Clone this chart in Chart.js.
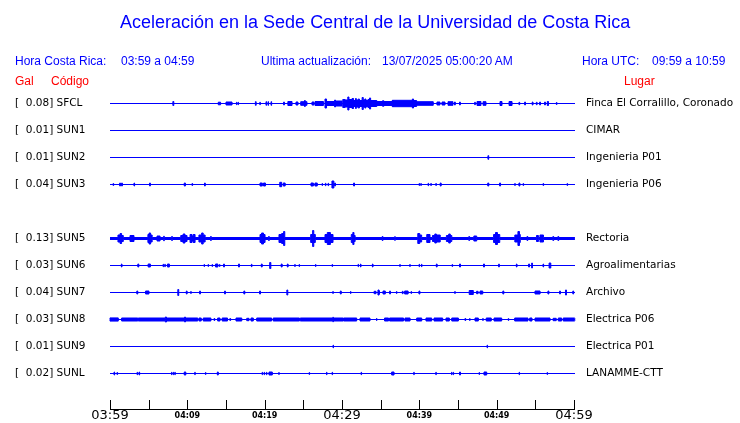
<!DOCTYPE html>
<html>
<head>
<meta charset="utf-8">
<script src="https://cdn.jsdelivr.net/npm/chart.js@4.4.1/dist/chart.umd.min.js"></script>
<style>
body{margin:0;background:#fff;}
#wrap{position:relative;width:740px;height:423px;overflow:hidden;}
#wrap canvas{position:absolute;left:0;top:0;}
.txt{position:absolute;white-space:pre;font-family:"Liberation Sans",Arial,sans-serif;font-size:12px;line-height:12px;color:#0000ff;}
.red{color:#ff0000;}
#title{font-size:18px;line-height:18px;}
</style>
</head>
<body>
<div id="wrap">
<canvas id="sismo" width="740" height="423"></canvas>
<div class="txt" id="title" style="left:120px;top:13px">Aceleración en la Sede Central de la Universidad de Costa Rica</div>
<div class="txt" style="left:15px;top:55px">Hora Costa Rica:</div>
<div class="txt" style="left:121px;top:55px">03:59 a 04:59</div>
<div class="txt" style="left:261px;top:55px">Ultima actualización:</div>
<div class="txt" style="left:382px;top:55px">13/07/2025 05:00:20 AM</div>
<div class="txt" style="left:582px;top:55px">Hora UTC:</div>
<div class="txt" style="left:652px;top:55px">09:59 a 10:59</div>
<div class="txt red" style="left:15px;top:75px">Gal</div>
<div class="txt red" style="left:51px;top:75px">Código</div>
<div class="txt red" style="left:624px;top:75px">Lugar</div>
</div>
<script>
/* -----------------------------
   DATA
------------------------------ */
// one row per station, the empty entry is the station with no record
const stations = ["SFCL","SUN1","SUN2","SUN3","","SUN5","SUN6","SUN7","SUN8","SUN9","SUNL"];
const peakGal = [0.08,0.01,0.01,0.04,null,0.13,0.03,0.04,0.03,0.01,0.02];
const places = ["Finca El Corralillo, Coronado","CIMAR","Ingenieria P01","Ingenieria P06","",
"Rectoria","Agroalimentarias","Archivo","Electrica P06","Electrica P01","LANAMME-CTT"];
const timeLabels = ["03:59","04:09","04:19","04:29","04:39","04:49","04:59"];

// background noise level of each trace
const noise = [0,0,0,0,0,1,0,0,0,0,0];

// bursts: [start minute, end minute, half amplitude], minutes after 03:59
const burstsSFCL = [[8.13,8.25,2],[14.0,14.3,1.3],[15.0,15.78,1.5],[16.35,16.42,1.2],[16.55,16.62,1.2],
[18.8,18.9,1.8],[19.37,19.44,1.2],[20.17,20.25,1.8],[20.43,20.5,1.8],[20.82,20.9,1.8],[22.45,22.55,1.5],
[23.0,23.54,2],[24.05,24.31,1.5],[24.66,25.15,1.8],[25.15,25.25,3],[25.25,25.47,1.8],[26.12,26.38,1.5],
[26.51,27.6,2],[27.8,28.0,4.5],[28.0,29.0,2],[29.05,29.15,3.5],[29.2,30.0,2.5],[30.1,30.4,4],
[30.4,30.75,3.5],[30.75,30.9,6.5],[30.9,31.3,4],[31.3,31.5,5],[31.5,31.75,3],[31.75,31.85,5],
[31.85,32.1,3.5],[32.1,32.25,4.5],[32.25,32.6,3],[32.6,32.75,6],[32.75,32.95,3.5],[32.95,33.1,4.5],
[33.1,33.35,3],[33.35,33.55,4],[33.55,33.7,5.5],[33.7,34.5,3],[34.5,35.25,2],[35.25,35.4,2.8],
[35.4,36.5,2],[36.5,36.6,3.2],[36.6,39.1,3.2],[39.1,39.25,4.5],[39.25,39.65,3],[39.65,41.8,1.8],
[42.28,42.67,1.5],[42.93,43.32,1.5],[43.71,44.35,1.8],[44.55,44.65,1.5],[45.2,45.3,1.5],[47.15,47.25,1.2],
[47.46,47.97,2],[48.24,48.62,1.8],[50.43,50.69,2],[51.6,51.99,2],[52.88,52.98,1.2],[53.62,53.72,1.5],
[54.6,54.7,1.5],[55.13,55.23,1.2],[55.56,55.66,1.5],[56.2,56.3,1.5],[56.55,56.7,2],[57.72,57.8,1]];
const burstsSUN1 = [];
const burstsSUN2 = [[48.87,48.97,1.8]];
const burstsSUN3 = [[0.4,0.47,1],[1.25,1.35,1.5],[1.5,1.6,1.5],[3.1,3.18,1.5],[5.12,5.22,1.5],[9.6,9.75,1.5],
[10.6,10.68,1],[12.22,12.32,1.5],[19.4,19.7,1.5],[19.85,20.1,1.5],[21.95,22.2,2.2],[22.4,22.65,1.5],
[25.99,26.3,1.5],[26.5,26.8,1.5],[27.42,27.48,1],[27.85,27.92,1.2],[28.2,28.27,1.2],[28.7,28.95,3.5],
[29.05,29.15,1.5],[31.5,31.62,1.5],[39.97,40.03,1],[40.19,40.25,1],[41.13,41.2,1.2],[41.48,41.55,1],
[42.13,42.2,1],[42.7,42.82,1.5],[48.85,48.98,1.5],[50.38,50.5,1.5],[52.34,52.4,1],[52.88,53.0,1.5],
[53.42,53.48,1],[56.0,56.07,1],[59.11,59.17,1]];
const burstsSUN5 = [[1.03,1.3,3.5],[1.3,1.5,5],[1.5,1.72,3],[2.59,3.1,3],[4.9,5.05,4],[5.05,5.25,5.5],
[5.25,5.45,3.5],[6.08,6.47,2.5],[6.93,7.03,2.2],[7.97,8.07,2],[9.15,9.45,3],[9.45,9.7,4.5],[9.7,9.96,3],
[10.35,10.6,4],[10.6,10.75,2.5],[10.75,11.0,4],[11.5,11.85,3.5],[11.85,12.05,5.5],[12.05,12.3,3.5],
[13.0,13.1,2],[19.4,19.6,4],[19.6,19.85,5.5],[19.85,20.05,4],[20.5,20.6,2],[21.85,22.2,4],[22.2,22.45,5],
[22.45,22.6,7],[25.95,26.2,4],[26.2,26.35,8],[26.35,26.55,4],[27.8,28.1,4],[28.1,28.5,6],[28.5,28.84,4],
[31.2,31.4,4],[31.4,31.55,6],[31.55,31.7,3],[35.2,35.3,2],[36.8,36.9,1.8],[39.8,40.05,5],[40.05,40.3,3.5],
[40.96,41.38,4],[41.7,42.0,3],[42.0,42.2,4.5],[42.2,42.7,3.5],[43.5,43.8,3],[43.8,44.0,4.5],[44.0,44.2,3],
[46.4,46.5,2],[47.05,47.42,2.5],[49.6,49.85,4],[49.85,50.1,6],[50.1,50.4,4],[52.35,52.75,3.5],
[52.75,52.95,7],[52.95,53.05,4],[53.92,54.02,2],[55.15,55.4,3],[55.6,56.05,3.5],[57.27,57.37,2],
[57.92,58.02,2]];
const burstsSUN6 = [[1.47,1.55,1.5],[3.6,3.72,1.5],[4.93,5.22,1.5],[6.86,6.93,1.2],[7.08,7.15,1.2],
[7.43,7.68,1.5],[12.16,12.22,1],[12.68,12.74,1],[13.2,13.26,1],[13.65,13.95,1.5],[14.16,14.22,1],
[14.69,14.79,1.5],[16.62,16.74,1.5],[18.28,18.36,1.2],[19.57,19.68,1.5],[20.65,20.8,3],[22.14,22.26,1.5],
[22.93,23.03,1.5],[23.89,23.95,1],[24.45,24.51,1],[26.57,26.63,1],[28.72,28.78,1],[32.08,32.14,1.2],
[32.39,32.45,1.5],[33.93,34.01,1.5],[37.47,37.53,1],[38.76,38.82,1],[39.97,40.03,1.2],[40.28,40.34,1.2],
[42.2,42.3,1.5],[44.24,44.3,1],[45.2,45.32,1.5],[48.3,48.42,1.5],[50.26,50.34,1.5],[52.55,52.63,1.5],
[54.13,54.25,1.5],[54.53,54.62,2.5],[56.0,56.07,1.5],[56.78,57.0,2.5]];
const burstsSUN7 = [[3.47,3.59,1.5],[4.6,5.04,1.5],[8.77,8.89,3],[9.87,9.97,1.5],[10.44,10.5,1],
[11.59,11.69,1.5],[14.82,14.92,1.5],[17.31,17.43,1.5],[19.34,19.46,1.5],[22.87,22.99,2.5],[28.81,28.87,1],
[29.78,29.9,1.5],[31.1,31.16,1],[34.15,34.4,1.2],[34.65,34.8,2.5],[34.8,34.85,1.5],[35.3,35.6,1.5],
[36.16,36.26,1.5],[37.04,37.1,1],[37.8,37.9,1.2],[38.1,38.55,1.5],[38.93,38.99,1],[39.95,40.07,1.5],
[44.58,44.64,1],[46.45,46.98,2],[47.4,47.6,1.2],[47.85,48.2,1.5],[50.8,50.92,1.5],[54.96,55.61,1.5],
[56.63,56.75,1.5],[58.14,58.24,1.5],[58.9,59.03,2.5],[59.85,59.95,1.5]];
const burstsSUN8 = [[0,1.07,1.6],[1.5,3.6,1.5],[3.65,7.1,1.5],[7.15,7.3,2.5],[7.3,9.6,1.5],[9.65,9.75,2.5],
[9.75,11.35,1.5],[11.5,11.8,1.5],[12.05,13.05,1.5],[13.45,13.55,1],[13.92,14.23,1.5],[14.5,15.2,1.5],
[15.5,15.6,1],[16.29,17.04,1.5],[17.68,17.98,1.2],[18.23,18.53,1.5],[18.97,20.9,1.5],[21.1,24.5,1.5],
[24.6,28.75,1.5],[28.8,28.9,2.2],[28.9,30.2,1.5],[30.26,31.9,1.5],[32.33,33.62,1.5],[34.46,34.52,1],
[35.5,36.02,1.5],[36.15,37.96,1.5],[38.14,38.8,1.5],[39.66,40.31,1.5],[40.86,41.6,1.5],[41.9,43.02,1.5],
[43.45,43.88,1.5],[44.19,45.05,1.5],[45.9,46.0,1],[46.5,46.56,1],[47.2,47.63,1.5],[48.2,48.26,1],
[48.65,49.3,1.5],[49.66,50.65,1.5],[51.5,51.56,1],[52.33,54.05,1.5],[54.27,54.57,1.5],[54.96,56.9,1.5],
[57.3,57.7,1.2],[57.97,58.4,1.5],[58.6,60.1,1.5]];
const burstsSUN9 = [[28.84,28.9,1.3],[48.76,48.82,1.3]];
const burstsSUNL = [[0.52,0.6,1.5],[0.9,0.98,1],[3.5,3.57,1.2],[3.76,3.83,1.5],[7.95,8.01,1.2],[8.17,8.23,1.2],
[8.38,8.44,1.2],[9.6,9.8,1.5],[10.96,11.02,1.2],[12.34,12.4,1],[13.88,14.0,1.5],[19.67,19.73,1.2],
[19.93,19.99,1.2],[20.23,20.29,1.2],[20.56,20.99,1.5],[21.82,21.88,1],[25.75,25.81,1],[28.0,28.06,1.2],
[28.72,28.78,1.2],[32.47,32.53,1.2],[36.42,36.73,1.5],[39.28,39.34,1.2],[42.13,42.19,1.2],[44.16,44.22,1.2],
[44.37,44.43,1.2],[45.2,45.32,1.5],[47.72,47.78,1],[48.36,48.71,1.5],[52.9,52.96,1.2],[56.52,56.58,1]];

const bursts = [burstsSFCL,burstsSUN1,burstsSUN2,burstsSUN3,null,burstsSUN5,burstsSUN6,burstsSUN7,
burstsSUN8,burstsSUN9,burstsSUNL];

const rowGap = 27;      // trace units between two rows
const traceEnd = 60.12; // last sample, minutes
const BLUE = "#0000ff";

let sismoChart;

/* -----------------------------
   ENVELOPE OF ONE TRACE
------------------------------ */
function envelope(list,base,row,sign){
let pts=[{x:0,y:row+sign*base}];
list.forEach(b=>{
pts.push({x:b[0],y:row+sign*b[2]});
pts.push({x:b[1],y:row+sign*base});
});
pts.push({x:traceEnd,y:row+sign*base});
return pts;
}

function stationLabel(k){
return "[" + peakGal[k].toFixed(2).padStart(6," ") + "] " + stations[k];
}

function rowTicks(scale){
scale.ticks = stations.map((s,k)=>s ? {value:k*rowGap} : null).filter(Boolean);
}

/* -----------------------------
   TICK MARKS (pointing up)
------------------------------ */
const tickMarks = {
id:"tickMarks",
afterDraw(chart){
const sx = chart.scales.x;
const ctx = chart.ctx;
const b = chart.chartArea.bottom;
ctx.save();
ctx.strokeStyle="#000";
ctx.lineWidth=1;
sx.ticks.forEach(t=>{
let px=Math.round(sx.getPixelForValue(t.value))+0.5;
ctx.beginPath();
ctx.moveTo(px,b-9);
ctx.lineTo(px,b);
ctx.stroke();
});
ctx.restore();
}
};

/* -----------------------------
   BUILD CHART
------------------------------ */
function initChart(){

let datasets=[];
stations.forEach((name,k)=>{
if(!name) return;
let row=k*rowGap;
datasets.push({
data:envelope(bursts[k],noise[k],row,-1),
stepped:true, fill:"+1",
backgroundColor:BLUE, borderColor:BLUE, borderWidth:1,
pointRadius:0, clip:4
});
datasets.push({
data:envelope(bursts[k],noise[k],row,1),
stepped:true, fill:false,
borderColor:BLUE, borderWidth:1,
pointRadius:0, clip:4
});
datasets.push({
data:[{x:0,y:row},{x:traceEnd,y:row}],
fill:false, borderColor:BLUE, borderWidth:1,
pointRadius:0, clip:4
});
});

const labelFont = {family:"DejaVu Sans", size:10.5};

sismoChart = new Chart(document.getElementById("sismo"),{
type:"line",
data:{datasets},
options:{
responsive:false,
animation:false,
devicePixelRatio:1,
layout:{padding:{top:90,left:15,right:0,bottom:0}},
plugins:{legend:{display:false},tooltip:{enabled:false}},
scales:{
x:{
type:"linear", position:"bottom", min:0, max:60,
afterFit:s=>{s.height=14;},
border:{display:true,color:"#000",width:1},
grid:{display:true,drawOnChartArea:false,drawTicks:false,tickLength:0},
ticks:{
stepSize:5, maxTicksLimit:20, autoSkip:false, maxRotation:0, padding:0, color:"#000",
callback:v=> v%10===0 ? timeLabels[v/10] : "",
font:c=> (c.tick && c.tick.value%30===0)
? {family:"DejaVu Sans",size:13,lineHeight:"14px"}
: {family:"DejaVu Sans",size:8,weight:"bold",lineHeight:"14px"}
}
},
y:{
type:"linear", position:"left", reverse:true, min:-13.5, max:305.5,
afterFit:s=>{s.width=95;},
afterBuildTicks:rowTicks,
border:{display:false},
grid:{display:false,drawTicks:false,tickLength:0},
ticks:{autoSkip:false, crossAlign:"far", padding:0, color:"#000", font:labelFont,
callback:v=>stationLabel(Math.round(v/rowGap))}
},
y2:{
type:"linear", position:"right", reverse:true, min:-13.5, max:305.5,
afterFit:s=>{s.width=166;},
afterBuildTicks:rowTicks,
border:{display:false},
// invisible tick marks only push the place names away from the plot
grid:{display:false,drawTicks:true,tickLength:12},
ticks:{autoSkip:false, crossAlign:"near", padding:0, color:"#000", font:labelFont,
callback:v=>places[Math.round(v/rowGap)]}
}
}
},
plugins:[tickMarks]
});
}

window.onload = function(){
initChart();
};
</script>
</body>
</html>
